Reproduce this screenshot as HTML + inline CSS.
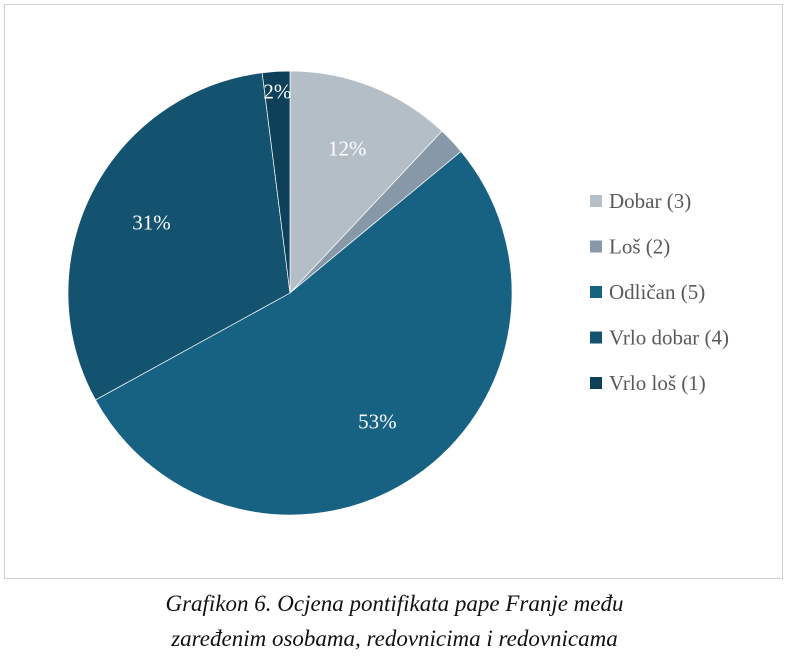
<!DOCTYPE html>
<html><head><meta charset="utf-8"><style>
body{margin:0;background:#fff;width:789px;height:663px;overflow:hidden;font-family:"Liberation Serif",serif}
#frame{position:absolute;left:4px;top:4px;width:779px;height:575px;border:1px solid #d0d0d0;box-sizing:border-box}
#cap{position:absolute;left:0;width:789px;top:586px;text-align:center;font-style:italic;font-size:23px;line-height:35px;color:#111}
</style></head><body>
<div id="frame"></div>
<svg id="chart" width="789" height="663" style="position:absolute;left:0;top:0"></svg>
<div id="cap">Grafikon 6. Ocjena pontifikata pape Franje među<br>zaređenim osobama, redovnicima i redovnicama</div>
<script>
const categories=["Dobar (3)","Loš (2)","Odličan (5)","Vrlo dobar (4)","Vrlo loš (1)"];
const values=[12,2,53,31,2];
const labels=["12%","","53%","31%","2%"];
const colors=["#b4bec7","#8799a9","#176183","#14536f","#0f4059"];
const NS="http://www.w3.org/2000/svg";
const svg=document.getElementById('chart');
const cx=290,cy=293,r=222;
const total=values.reduce((a,b)=>a+b,0);
function pt(a,rr){return [cx+rr*Math.sin(a),cy-rr*Math.cos(a)];}
let acc=0;
values.forEach((v,i)=>{
  const a0=acc/total*2*Math.PI;acc+=v;const a1=acc/total*2*Math.PI;
  const p0=pt(a0,r),p1=pt(a1,r);
  const path=document.createElementNS(NS,'path');
  path.setAttribute('d',`M${cx},${cy}L${p0[0]},${p0[1]}A${r},${r} 0 ${a1-a0>Math.PI?1:0} 1 ${p1[0]},${p1[1]}Z`);
  path.setAttribute('fill',colors[i]);
  path.setAttribute('stroke','#fff');path.setAttribute('stroke-width','0.7');
  
  
  svg.appendChild(path);
  if(labels[i]){
    const m=(a0+a1)/2;const lr=v<5?0.91*r:0.7*r;const p=pt(m,lr);
    const t=document.createElementNS(NS,'text');
    t.setAttribute('x',p[0]);t.setAttribute('y',p[1]+7);
    t.setAttribute('text-anchor','middle');t.setAttribute('fill','#fff');t.setAttribute('font-size','21');
    t.setAttribute('font-family','Liberation Serif, serif');
    t.textContent=labels[i];
    
    
    svg.appendChild(t);
  }
});
categories.forEach((c,i)=>{
  const y=201+i*45.5;
  const g=document.createElementNS(NS,'g');
  
  
  const rc=document.createElementNS(NS,'rect');
  rc.setAttribute('x',590);rc.setAttribute('y',y-6);rc.setAttribute('width',12);rc.setAttribute('height',12);rc.setAttribute('fill',colors[i]);
  
  
  const t=document.createElementNS(NS,'text');
  t.setAttribute('x',609);t.setAttribute('y',y+7);t.setAttribute('font-size','21');t.setAttribute('fill','#595959');
  t.setAttribute('font-family','Liberation Serif, serif');
  t.textContent=c;
  
  
  g.appendChild(rc);g.appendChild(t);svg.appendChild(g);
});
</script>
</body></html>
